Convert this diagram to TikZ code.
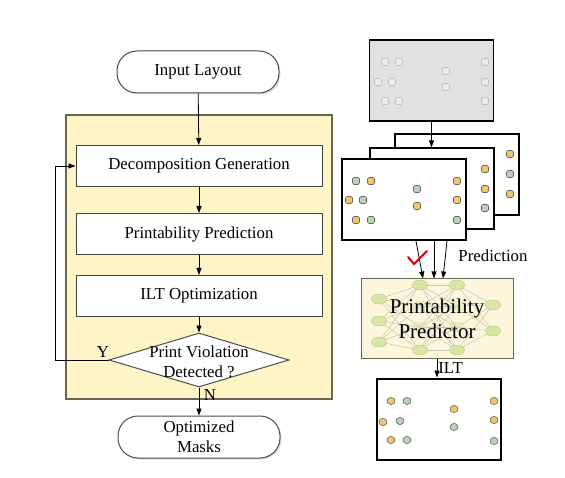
\documentclass[tikz,border=0pt]{standalone}
\usepackage{fontspec}
\setmainfont{Liberation Serif}
\usetikzlibrary{arrows.meta,shapes.geometric,shadows}
\definecolor{panel}{HTML}{FFF4C6}
\definecolor{panelline}{HTML}{6B6450}
\definecolor{predfill}{HTML}{FCF6DC}
\definecolor{org}{HTML}{F3C46E}
\definecolor{grn}{HTML}{B9D4B4}
\definecolor{nn}{HTML}{D5E7A2}
\begin{document}
\begin{tikzpicture}[x=1pt,y=-1pt,font=\fontsize{16.8}{20}\selectfont,
	>={Triangle[length=7pt,width=5pt]},
	blk/.style={draw=black!75,line width=1pt,fill=white,minimum width=246pt,minimum height=41pt},
	pill/.style={draw=black!70,line width=1pt,fill=white,rounded corners=20pt,minimum width=162pt,minimum height=42pt,align=center,
		drop shadow={opacity=.25,shadow xshift=1.5pt,shadow yshift=-1.5pt}},
	page/.style={draw=black,line width=1.2pt,fill=white,minimum width=124pt,minimum height=81pt},
	pad/.style={draw=black!60,line width=.6pt,rounded corners=1.5pt},
	neuron/.style={ellipse,fill=nn,draw=nn!85!black,line width=.4pt,minimum width=15pt,minimum height=10pt,inner sep=0pt}]
	\useasboundingbox (0,0) rectangle (565,478);
	% left flow
	\node[draw=panelline,line width=1.5pt,fill=panel,minimum width=266pt,minimum height=284pt] (loop) at (199,257) {};
	\node[pill] (inp) at (198,72) {Input Layout};
	\node[blk] (dec) at (199,166) {Decomposition Generation};
	\node[blk] (pp) at (199,234) {Printability Prediction};
	\node[blk] (ilt) at (199,296) {ILT Optimization};
	\node[diamond,draw=black!70,line width=1pt,fill=white,minimum width=180pt,minimum height=54pt,inner sep=0pt] (chk) at (199,360) {};
	\node[align=center] (chktxt) at (199,362) {Print Violation\\Detected ?};
	\node[pill] (opt) at (199,437) {Optimized\\Masks};
	\draw[->,line width=.8pt]
	(inp) edge (dec)
	(dec) edge (pp)
	(pp) edge (ilt)
	(ilt) edge (chk)
	(chk) edge (opt)
	(chk.west) -- ++(-53,0) |- (dec.west);
	\node (y) at (103,352) {Y};
	\node (n) at (210,395) {N};
	% layouts
	\node[page,fill=black!12,line width=1.5pt] (lay) at (431.5,80.5) {};
	\node[page] (back) at (457,174.5) {};
	\node[page] (mid) at (432,188.5) {};
	\node[page,line width=2pt] (front) at (404,199.5) {};
	\node[page,line width=2pt] (out) at (438.5,419) {};
	\draw[->,line width=.8pt] (lay) -- (lay |- mid.north);
	\foreach \p/\q in {385/62,399/62,378/82,392/82,385/101,399/101,446/71,446/87,485/62,485/82,485/101}
		\draw[pad,draw=black!25,fill=white!92!black] (\p-3.5,\q-3.5) rectangle ++(7,7);
	\foreach \p/\q/\c in {356/181/grn,371/181/org,349/200/org,363/200/grn,356/220/org,371/220/grn,417/189/grn,417/206/org,
		457/181/org,457/200/org,457/220/grn,485/169/org,485/189/org,485/208/grn,510/154/org,510/174/grn,510/194/org}
		\draw[pad,fill=\c] (\p-3.5,\q-3.5) rectangle ++(7,7);
	\foreach \p/\q/\c in {391/401/org,407/401/grn,383/422/org,400/421/grn,391/440/org,407/440/grn,454/409/org,454/427/grn,
		494/401/org,494/420/org,494/441/grn}
		\draw[draw=black!60,line width=.6pt,fill=\c] (\p,\q) ellipse (4 and 3.6);
	% predictor
	\node[draw=panelline,line width=1pt,fill=predfill,minimum width=152pt,minimum height=79pt] (pred) at (437,318.5) {};
	\foreach \x/\g in {1/299,2/321,3/342} \coordinate (i\x) at (379,\g);
	\foreach \x/\g in {1/285,2/306,3/327,4/350} \coordinate (h\x) at (420,\g);
	\foreach \x/\g in {1/285,2/306,3/327,4/350} \coordinate (g\x) at (457,\g);
	\foreach \x/\g in {1/305,2/331} \coordinate (o\x) at (493,\g);
	\begin{scope}[predfill!80!black,line width=.5pt]
		\foreach \a in {1,2,3} \foreach \b in {1,...,4} \draw (i\a) -- (h\b);
		\foreach \a in {1,...,4} \foreach \b in {1,...,4} \draw (h\a) -- (g\b);
		\foreach \a in {1,...,4} \foreach \b in {1,2} \draw (g\a) -- (o\b);
	\end{scope}
	\foreach \x in {i1,i2,i3,h1,h4,g1,g4,o1,o2} \node[neuron] at (\x) {};
	\foreach \x in {h2,h3,g2,g3} \node[neuron,opacity=.4] at (\x) {};
	\node[align=center,font=\fontsize{21}{25}\selectfont] (predtxt) at (pred) {Printability\\Predictor};
	\foreach \a/\b in {12/-14,30/-3,43/6}
		\draw[->,line width=.8pt] ([xshift=\a pt]front.south) -- ([xshift=\b pt]pred.north);
	\draw[->,line width=.8pt] (pred.south) -- (pred.south |- out.north) node[midway,right,inner sep=1pt] {ILT};
	\node (predlbl) at (493,256) {Prediction};
	\draw[red!85!black,line width=2pt,line cap=round,line join=round] (408,257) -- (414,264) -- (427,251);
\end{tikzpicture}
\end{document}
